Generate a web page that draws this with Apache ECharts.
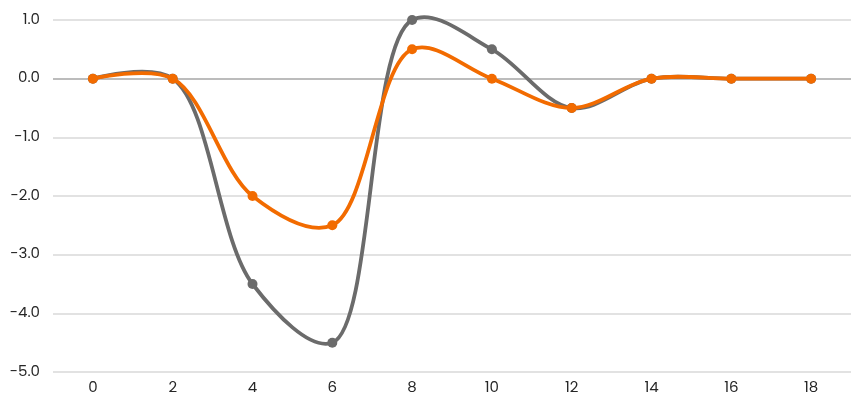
<!DOCTYPE html>
<html><head><meta charset="utf-8">
<script src="https://cdn.jsdelivr.net/npm/echarts@6/dist/echarts.min.js"></script>
<style>html,body{margin:0;padding:0;background:#fff}#c{width:860px;height:403px}</style>
</head><body><div id="c"></div>
<script>
const xValues = [0, 2, 4, 6, 8, 10, 12, 14, 16, 18];
const grayValues = [0, 0, -3.5, -4.5, 1, 0.5, -0.5, 0, 0, 0];
const orangeValues = [0, 0, -2, -2.5, 0.5, 0, -0.5, 0, 0, 0];
const yTicks = [-5, -4, -3, -2, -1, 0, 1];

const GRAY = '#6b6b6b', ORANGE = '#f26b00';
const ALPHA = 0.5; // centripetal Catmull-Rom
const pairs = (ys) => xValues.map((x, i) => [x, ys[i]]);

// Smooth curve through the data points, projected with the chart's own axes.
function curveRenderer(ys, color) {
  return function (params, api) {
    if (params.dataIndex !== 0) return null;
    const pts = pairs(ys).map(p => api.coord(p));
    const n = pts.length;
    const dist = (a, b) => Math.hypot(b[0] - a[0], b[1] - a[1]);
    let d = 'M' + pts[0][0] + ' ' + pts[0][1];
    for (let i = 0; i < n - 1; i++) {
      const p0 = pts[Math.max(0, i - 1)], p1 = pts[i], p2 = pts[i + 1], p3 = pts[Math.min(n - 1, i + 2)];
      const d01 = dist(p0, p1), d12 = dist(p1, p2), d23 = dist(p2, p3);
      const l01a = Math.pow(d01, ALPHA), l12a = Math.pow(d12, ALPHA), l23a = Math.pow(d23, ALPHA);
      const l01_2a = Math.pow(d01, 2 * ALPHA), l12_2a = Math.pow(d12, 2 * ALPHA), l23_2a = Math.pow(d23, 2 * ALPHA);
      let c1 = [p1[0], p1[1]], c2 = [p2[0], p2[1]];
      if (l01a > 1e-9) {
        const a = 2 * l01_2a + 3 * l01a * l12a + l12_2a, m = 3 * l01a * (l01a + l12a);
        c1 = [0, 1].map(k => (p1[k] * a - p0[k] * l12_2a + p2[k] * l01_2a) / m);
      }
      if (l23a > 1e-9) {
        const b = 2 * l23_2a + 3 * l23a * l12a + l12_2a, m = 3 * l23a * (l23a + l12a);
        c2 = [0, 1].map(k => (p2[k] * b + p1[k] * l23_2a - p3[k] * l12_2a) / m);
      }
      d += ' C' + c1[0] + ' ' + c1[1] + ' ' + c2[0] + ' ' + c2[1] + ' ' + p2[0] + ' ' + p2[1];
    }
    return {
      type: 'path',
      shape: {pathData: d},
      style: {fill: null, stroke: color, lineWidth: 3.8, lineJoin: 'round', lineCap: 'round'}
    };
  };
}

const chart = echarts.init(document.getElementById('c'), null, {renderer: 'canvas'});
const splitColors = yTicks.map(v => v === 0 ? '#a6a6a6' : '#d9d9d9');
const labelFont = {color: '#262626', fontSize: 15, fontFamily: 'Poppins, Inter, sans-serif'};
chart.setOption({
  animation: false,
  grid: {left: 53, right: 9, top: 20, bottom: 31},
  xAxis: {
    type: 'value', min: -1, max: 19, interval: 1,
    axisLine: {show: false}, axisTick: {show: false}, splitLine: {show: false},
    axisLabel: Object.assign({margin: 9,
      formatter: v => (v >= 0 && v <= 18 && v % 2 === 0) ? String(v) : ''}, labelFont)
  },
  yAxis: {
    type: 'value', min: -5, max: 1, interval: 1,
    axisLine: {show: false}, axisTick: {show: false},
    splitLine: {lineStyle: {color: splitColors, width: 1.5}},
    axisLabel: Object.assign({margin: 13, formatter: v => v.toFixed(1)}, labelFont)
  },
  series: [
    {type: 'custom', data: pairs(grayValues), renderItem: curveRenderer(grayValues, GRAY), z: 2, silent: true},
    {type: 'line', data: pairs(grayValues), symbol: 'circle', symbolSize: 10,
     lineStyle: {width: 0, opacity: 0}, itemStyle: {color: GRAY}, z: 3},
    {type: 'custom', data: pairs(orangeValues), renderItem: curveRenderer(orangeValues, ORANGE), z: 4, silent: true},
    {type: 'line', data: pairs(orangeValues), symbol: 'circle', symbolSize: 10,
     lineStyle: {width: 0, opacity: 0}, itemStyle: {color: ORANGE}, z: 5}
  ]
});
</script></body></html>
